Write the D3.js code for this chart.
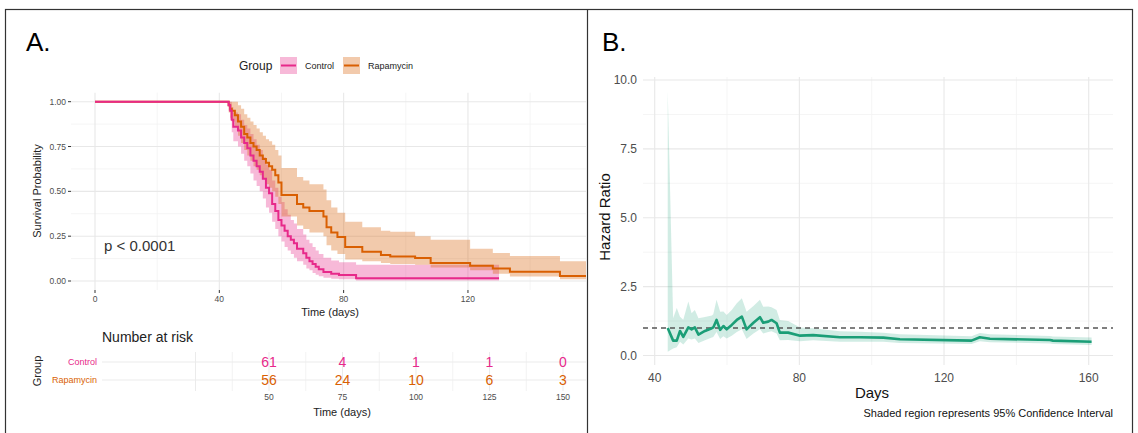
<!DOCTYPE html>
<html><head><meta charset="utf-8">
<script src="https://cdn.jsdelivr.net/npm/d3@7"></script>
<style>body{margin:0;background:#fff} text{font-family:"Liberation Sans",Arial,Helvetica,sans-serif}</style>
</head><body><svg id="c" width="1138" height="433"></svg>
<script>
// ---------- Panel A data: Kaplan–Meier ----------
const groups = ["Control", "Rapamycin"];
const groupColors = ["#E7298A", "#D95F02"];
const ctrlTime = [0, 43, 43.5, 44, 44.5, 46, 47, 48, 49, 50, 51, 52, 53, 54, 55, 56, 57, 58, 59, 60, 61, 62, 63, 64, 65, 67, 68, 69, 70, 71, 72, 73.5, 76, 78.5, 84];
const ctrlSurv = [1, 0.98, 0.95, 0.90, 0.86, 0.84, 0.80, 0.77, 0.74, 0.70, 0.67, 0.64, 0.61, 0.57, 0.52, 0.49, 0.43, 0.39, 0.34, 0.31, 0.28, 0.25, 0.23, 0.21, 0.18, 0.155, 0.13, 0.11, 0.095, 0.08, 0.066, 0.05, 0.041, 0.033, 0.016];
const ctrlUpper = [1, 1, 1, 0.97, 0.94, 0.93, 0.90, 0.87, 0.85, 0.82, 0.79, 0.76, 0.73, 0.69, 0.65, 0.62, 0.56, 0.52, 0.47, 0.44, 0.40, 0.37, 0.34, 0.32, 0.29, 0.26, 0.23, 0.21, 0.19, 0.17, 0.15, 0.13, 0.115, 0.105, 0.09];
const ctrlLower = [1, 0.95, 0.90, 0.83, 0.78, 0.75, 0.71, 0.67, 0.64, 0.60, 0.56, 0.53, 0.50, 0.46, 0.41, 0.38, 0.33, 0.29, 0.25, 0.22, 0.19, 0.17, 0.15, 0.13, 0.11, 0.09, 0.07, 0.06, 0.045, 0.035, 0.027, 0.018, 0.013, 0.01, 0.003];
const ctrlEnd = 130;

const rapaTime = [0, 43, 43.5, 44, 45, 46, 47, 48, 49, 50, 51, 52, 53, 54, 55, 56, 57, 58, 59, 60, 65, 67, 69, 73.5, 74.5, 76, 78, 80.5, 86, 92, 95, 103, 108, 120.7, 128, 133.5, 149.6];
const rapaSurv = [1, 0.98, 0.96, 0.95, 0.925, 0.89, 0.86, 0.82, 0.80, 0.77, 0.75, 0.73, 0.70, 0.68, 0.66, 0.64, 0.62, 0.59, 0.55, 0.48, 0.43, 0.41, 0.39, 0.36, 0.30, 0.27, 0.245, 0.19, 0.163, 0.145, 0.136, 0.128, 0.10, 0.085, 0.07, 0.052, 0.028];
const rapaUpper = [1, 1, 1, 1, 1, 0.98, 0.96, 0.93, 0.91, 0.89, 0.87, 0.85, 0.83, 0.81, 0.79, 0.78, 0.76, 0.73, 0.70, 0.63, 0.58, 0.56, 0.54, 0.51, 0.45, 0.41, 0.38, 0.33, 0.30, 0.28, 0.275, 0.25, 0.23, 0.18, 0.156, 0.14, 0.11];
const rapaLower = [1, 0.94, 0.91, 0.89, 0.86, 0.81, 0.77, 0.73, 0.70, 0.67, 0.64, 0.62, 0.59, 0.57, 0.54, 0.52, 0.50, 0.47, 0.43, 0.36, 0.31, 0.29, 0.27, 0.25, 0.20, 0.17, 0.15, 0.12, 0.11, 0.10, 0.095, 0.09, 0.075, 0.06, 0.04, 0.025, 0.01];
const rapaEnd = 158;

const kmXTicks = [0, 40, 80, 120, 160];
const kmXMinor = [20, 60, 100, 140];
const kmYTicks = [0, 0.25, 0.5, 0.75, 1];
const kmYMinor = [0.125, 0.375, 0.625, 0.875];

// Number at risk table
const riskTimes = [50, 75, 100, 125, 150];
const riskControl = [61, 4, 1, 1, 0];
const riskRapamycin = [56, 24, 10, 6, 3];
const riskMajor = [25, 50, 75, 100, 125, 150];
const riskMinor = [37.5, 62.5, 87.5, 112.5, 137.5];

// ---------- Panel B data: Hazard ratio over time ----------
const hrDays = [43.6, 45.1, 46.1, 47.0, 47.9, 49.3, 50.2, 51.1, 52.1, 53.9, 55.8, 56.2, 57.1, 58.1, 59.0, 59.9, 61.3, 62.7, 64.1, 65.4, 67.3, 69.1, 70.0, 71.4, 72.3, 73.7, 74.6, 76.9, 80.2, 83.8, 91.2, 96.7, 103.2, 107.8, 127.6, 129.9, 132.7, 149.3, 150.1, 160.8];
const hrValue = [1.00, 0.54, 0.54, 0.89, 0.68, 1.02, 0.95, 1.02, 0.76, 0.89, 0.99, 1.02, 1.29, 0.93, 1.07, 0.95, 1.11, 1.29, 1.41, 0.95, 1.19, 1.39, 1.19, 1.23, 1.29, 1.17, 0.83, 0.83, 0.72, 0.74, 0.66, 0.66, 0.65, 0.59, 0.54, 0.66, 0.61, 0.56, 0.54, 0.50];
const hrHigh = [9.6, 1.35, 1.72, 1.41, 1.30, 1.96, 1.53, 1.65, 1.35, 1.40, 1.45, 1.50, 2.02, 1.59, 1.60, 1.47, 1.65, 1.90, 2.08, 1.59, 1.80, 2.02, 1.77, 1.78, 1.75, 1.65, 1.29, 1.25, 1.02, 0.99, 0.88, 0.86, 0.83, 0.77, 0.70, 0.82, 0.77, 0.71, 0.69, 0.65];
const hrLow = [0.14, 0.25, 0.30, 0.50, 0.40, 0.62, 0.58, 0.62, 0.45, 0.55, 0.65, 0.67, 0.85, 0.60, 0.70, 0.62, 0.72, 0.85, 0.95, 0.60, 0.80, 0.95, 0.80, 0.85, 0.88, 0.80, 0.55, 0.56, 0.52, 0.55, 0.50, 0.50, 0.50, 0.45, 0.42, 0.52, 0.48, 0.44, 0.42, 0.38];
const hrRef = 1;
const hrXTicks = [40, 80, 120, 160];
const hrXMinor = [60, 100, 140];
const hrYTicks = [0, 2.5, 5, 7.5, 10];
const hrYMinor = [1.25, 3.75, 6.25, 8.75];
const hrGreen = "#1B9E77";

// ---------- drawing ----------
const svg = d3.select("#c");
svg.append("rect").attr("width", 1138).attr("height", 433).attr("fill", "#fff");
// frame
svg.append("rect").attr("x", 5.5).attr("y", 9.5).attr("width", 1127).attr("height", 440)
  .attr("fill", "none").attr("stroke", "#333").attr("stroke-width", 1.2);
svg.append("line").attr("x1", 587.5).attr("x2", 587.5).attr("y1", 9.5).attr("y2", 433)
  .attr("stroke", "#333").attr("stroke-width", 1.2);

svg.append("text").attr("x", 26).attr("y", 51).attr("font-size", 26).text("A.");
svg.append("text").attr("x", 602).attr("y", 51).attr("font-size", 26).text("B.");

// ===== Panel A =====
const xA = d3.scaleLinear().domain([0, 160]).range([95, 95 + 3.108 * 160]);
const yA = d3.scaleLinear().domain([0, 1]).range([281, 101.7]);
const pA = {l: 71, r: 586, t: 92.7, b: 290};

svg.append("clipPath").attr("id", "clipA").append("rect")
  .attr("x", pA.l).attr("y", pA.t - 5).attr("width", pA.r - pA.l).attr("height", pA.b - pA.t + 10);
const gA = svg.append("g").attr("clip-path", "url(#clipA)");

kmYMinor.forEach(v => gA.append("line").attr("x1", pA.l).attr("x2", pA.r).attr("y1", yA(v)).attr("y2", yA(v)).attr("stroke", "#f2f2f2").attr("stroke-width", 0.8));
kmXMinor.forEach(v => gA.append("line").attr("x1", xA(v)).attr("x2", xA(v)).attr("y1", pA.t).attr("y2", pA.b).attr("stroke", "#f2f2f2").attr("stroke-width", 0.8));
kmYTicks.forEach(v => gA.append("line").attr("x1", pA.l).attr("x2", pA.r).attr("y1", yA(v)).attr("y2", yA(v)).attr("stroke", "#e8e8e8").attr("stroke-width", 1.1));
kmXTicks.forEach(v => gA.append("line").attr("x1", xA(v)).attr("x2", xA(v)).attr("y1", pA.t).attr("y2", pA.b).attr("stroke", "#e8e8e8").attr("stroke-width", 1.1));

function kmData(t, s, lo, up, end) {
  const d = t.map((v, i) => ({t: v, s: s[i], lo: lo[i], up: up[i]}));
  const last = d[d.length - 1];
  d.push({t: end, s: last.s, lo: last.lo, up: last.up});
  return d;
}
const kmSets = [
  kmData(ctrlTime, ctrlSurv, ctrlLower, ctrlUpper, ctrlEnd),
  kmData(rapaTime, rapaSurv, rapaLower, rapaUpper, rapaEnd)
];
const band = d3.area().curve(d3.curveStepAfter).x(d => xA(d.t)).y0(d => yA(d.lo)).y1(d => yA(d.up));
const step = d3.line().curve(d3.curveStepAfter).x(d => xA(d.t)).y(d => yA(d.s));
kmSets.forEach((d, i) => {
  gA.append("path").attr("d", band(d)).attr("fill", groupColors[i]).attr("fill-opacity", 0.33);
});
[1, 0].forEach(i => {
  gA.append("path").attr("d", step(kmSets[i])).attr("fill", "none").attr("stroke", groupColors[i]).attr("stroke-width", 2);
});

// axes A
const axisCol = "#4d4d4d";
kmYTicks.forEach(v => {
  svg.append("line").attr("x1", 68).attr("x2", 71).attr("y1", yA(v)).attr("y2", yA(v)).attr("stroke", "#333");
  svg.append("text").attr("x", 66).attr("y", yA(v) + 3).attr("text-anchor", "end").attr("font-size", 8.5).attr("fill", axisCol).text(d3.format(".2f")(v));
});
kmXTicks.filter(v => xA(v) < pA.r).forEach(v => {
  svg.append("line").attr("x1", xA(v)).attr("x2", xA(v)).attr("y1", 290).attr("y2", 293).attr("stroke", "#333");
  svg.append("text").attr("x", xA(v)).attr("y", 302).attr("text-anchor", "middle").attr("font-size", 8.5).attr("fill", axisCol).text(v);
});
svg.append("text").attr("x", 330).attr("y", 316).attr("text-anchor", "middle").attr("font-size", 11).attr("fill", "#222").text("Time (days)");
svg.append("text").attr("transform", "translate(41,191) rotate(-90)").attr("text-anchor", "middle").attr("font-size", 11).attr("fill", "#222").text("Survival Probability");
svg.append("text").attr("x", 104).attr("y", 251).attr("font-size", 15).attr("fill", "#333").text("p < 0.0001");

// legend
svg.append("text").attr("x", 239).attr("y", 70).attr("font-size", 12).attr("fill", "#222").text("Group");
const legX = [280, 343];
const legLabX = [305, 368];
groups.forEach((g, i) => {
  svg.append("rect").attr("x", legX[i]).attr("y", 57).attr("width", 17).attr("height", 17).attr("fill", groupColors[i]).attr("fill-opacity", 0.33);
  svg.append("line").attr("x1", legX[i] + 1).attr("x2", legX[i] + 16).attr("y1", 65.5).attr("y2", 65.5).attr("stroke", groupColors[i]).attr("stroke-width", 2);
  svg.append("text").attr("x", legLabX[i]).attr("y", 69).attr("font-size", 9).attr("fill", "#222").text(g);
});

// risk table
const xR = d3.scaleLinear().domain([0, 150]).range([122, 563]);
const rowY = [362, 380];
svg.append("text").attr("x", 102).attr("y", 342).attr("font-size", 14).attr("fill", "#222").text("Number at risk");
svg.append("clipPath").attr("id", "clipA2").append("rect").attr("x", 100).attr("y", 340).attr("width", 486).attr("height", 80);
const gR = svg.append("g").attr("clip-path", "url(#clipA2)");
riskMinor.forEach(v => gR.append("line").attr("x1", xR(v)).attr("x2", xR(v)).attr("y1", 352).attr("y2", 391).attr("stroke", "#f0f0f0").attr("stroke-width", 0.8));
riskMajor.forEach(v => gR.append("line").attr("x1", xR(v)).attr("x2", xR(v)).attr("y1", 352).attr("y2", 391).attr("stroke", "#ebebeb").attr("stroke-width", 1));
rowY.forEach(y => gR.append("line").attr("x1", 102).attr("x2", 586).attr("y1", y).attr("y2", y).attr("stroke", "#ebebeb").attr("stroke-width", 1.1));
const riskRows = [riskControl, riskRapamycin];
groups.forEach((g, i) => {
  svg.append("text").attr("x", 97).attr("y", rowY[i] + 3).attr("text-anchor", "end").attr("font-size", 9).attr("fill", groupColors[i]).text(g);
  riskTimes.forEach((t, j) => {
    gR.append("text").attr("x", xR(t)).attr("y", rowY[i] + 5).attr("text-anchor", "middle").attr("font-size", 14).attr("fill", groupColors[i]).text(riskRows[i][j]);
  });
});
riskTimes.forEach(t => gR.append("text").attr("x", xR(t)).attr("y", 400).attr("text-anchor", "middle").attr("font-size", 8.5).attr("fill", axisCol).text(t));
svg.append("text").attr("x", 342).attr("y", 416).attr("text-anchor", "middle").attr("font-size", 11).attr("fill", "#222").text("Time (days)");
svg.append("text").attr("transform", "translate(41,371) rotate(-90)").attr("text-anchor", "middle").attr("font-size", 11).attr("fill", "#222").text("Group");

// ===== Panel B =====
const xB = d3.scaleLinear().domain([40, 160]).range([654.7, 1088.7]);
const yB = d3.scaleLinear().domain([0, 10]).range([355.5, 80]);
const pB = {l: 643, r: 1113, t: 77, b: 365};

hrYMinor.forEach(v => svg.append("line").attr("x1", pB.l).attr("x2", pB.r).attr("y1", yB(v)).attr("y2", yB(v)).attr("stroke", "#f2f2f2").attr("stroke-width", 0.8));
hrXMinor.forEach(v => svg.append("line").attr("x1", xB(v)).attr("x2", xB(v)).attr("y1", pB.t).attr("y2", pB.b).attr("stroke", "#f2f2f2").attr("stroke-width", 0.8));
hrYTicks.forEach(v => svg.append("line").attr("x1", pB.l).attr("x2", pB.r).attr("y1", yB(v)).attr("y2", yB(v)).attr("stroke", "#e8e8e8").attr("stroke-width", 1.1));
hrXTicks.forEach(v => svg.append("line").attr("x1", xB(v)).attr("x2", xB(v)).attr("y1", pB.t).attr("y2", pB.b).attr("stroke", "#e8e8e8").attr("stroke-width", 1.1));

const hrData = hrDays.map((d, i) => ({d, v: hrValue[i], lo: hrLow[i], hi: hrHigh[i]}));
svg.append("path").attr("d", d3.area().x(d => xB(d.d)).y0(d => yB(d.lo)).y1(d => yB(d.hi))(hrData))
  .attr("fill", hrGreen).attr("fill-opacity", 0.2);
svg.append("line").attr("x1", pB.l).attr("x2", pB.r).attr("y1", yB(hrRef)).attr("y2", yB(hrRef))
  .attr("stroke", "#555").attr("stroke-width", 1.4).attr("stroke-dasharray", "5,4");
svg.append("path").attr("d", d3.line().x(d => xB(d.d)).y(d => yB(d.v))(hrData))
  .attr("fill", "none").attr("stroke", hrGreen).attr("stroke-width", 2.6).attr("stroke-linejoin", "round");

hrYTicks.forEach(v => svg.append("text").attr("x", 637).attr("y", yB(v) + 4).attr("text-anchor", "end").attr("font-size", 12).attr("fill", axisCol).text(d3.format(".1f")(v)));
hrXTicks.forEach(v => svg.append("text").attr("x", xB(v)).attr("y", 382).attr("text-anchor", "middle").attr("font-size", 12).attr("fill", axisCol).text(v));
svg.append("text").attr("x", 872).attr("y", 398).attr("text-anchor", "middle").attr("font-size", 15).attr("fill", "#111").text("Days");
svg.append("text").attr("transform", "translate(610,217) rotate(-90)").attr("text-anchor", "middle").attr("font-size", 15).attr("fill", "#111").text("Hazard Ratio");
svg.append("text").attr("x", 1113).attr("y", 417).attr("text-anchor", "end").attr("font-size", 11).attr("fill", "#111").text("Shaded region represents 95% Confidence Interval");
</script></body></html>
